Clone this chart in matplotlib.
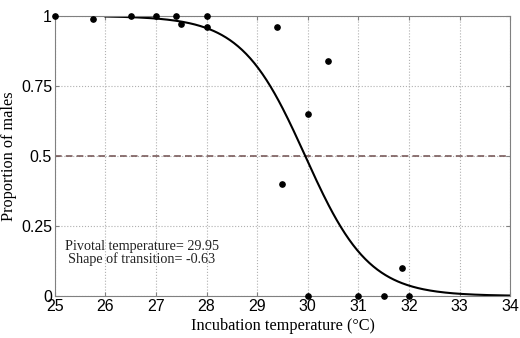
import numpy as np
import matplotlib.pyplot as plt

# observed proportions of males
temp = [25, 25.75, 26.5, 27, 27.4, 27.5, 28, 28, 29.4, 29.5, 30, 30, 30.4,
        31, 31.5, 31.87, 32]
prop = [1, 0.99, 1, 1, 1, 0.97, 1, 0.96, 0.96, 0.40, 0.65, 0, 0.84,
        0, 0, 0.10, 0]

# fitted logistic model
pivotal = 29.95
shape = -0.63
fit_x = np.linspace(26, 34, 300)
fit_y = 1 / (1 + np.exp((fit_x - pivotal) / -shape))

xticks = [25, 26, 27, 28, 29, 30, 31, 32, 33, 34]
yticks = [0, 0.25, 0.5, 0.75, 1]
ylabels = ['0', '0.25', '0.5', '0.75', '1']

fig = plt.figure(figsize=(5.2, 3.38), dpi=100)
ax = fig.add_axes([0.1054, 0.1243, 0.8756, 0.8284])

ax.axhline(0.5, color='#7a5c5c', linestyle='--', linewidth=1.2, dashes=(4, 2.5))
ax.plot(fit_x, fit_y, color='black', linewidth=1.5)
ax.plot(temp, prop, 'o', color='black', markersize=3.8, clip_on=False, zorder=5)

ax.set_xlim(25, 34)
ax.set_ylim(0, 1)
ax.set_xticks(xticks)
ax.set_yticks(yticks)
ax.set_yticklabels(ylabels)
ax.grid(True, linestyle=':', color='#b0b0b0', linewidth=0.8)

for lab in ax.get_xticklabels() + ax.get_yticklabels():
    lab.set_fontfamily('Liberation Sans')
    lab.set_fontsize(11.5)
ax.tick_params(direction='in', top=True, right=True, length=3, pad=2,
               color='#808080')
for s in ax.spines.values():
    s.set_color('#808080')

ax.set_xlabel('Incubation temperature (°C)', family='Liberation Serif',
              fontsize=11.7, labelpad=3)
ax.set_ylabel('Proportion of males', family='Liberation Serif',
              fontsize=11.7, labelpad=3)

ax.text(26.72, 0.175, 'Pivotal temperature= 29.95', family='Liberation Serif',
        fontsize=10.2, ha='center', va='center', color='#222222')
ax.text(26.72, 0.132, 'Shape of transition= -0.63', family='Liberation Serif',
        fontsize=10.2, ha='center', va='center', color='#222222')

fig.savefig('out.png', dpi=100)
